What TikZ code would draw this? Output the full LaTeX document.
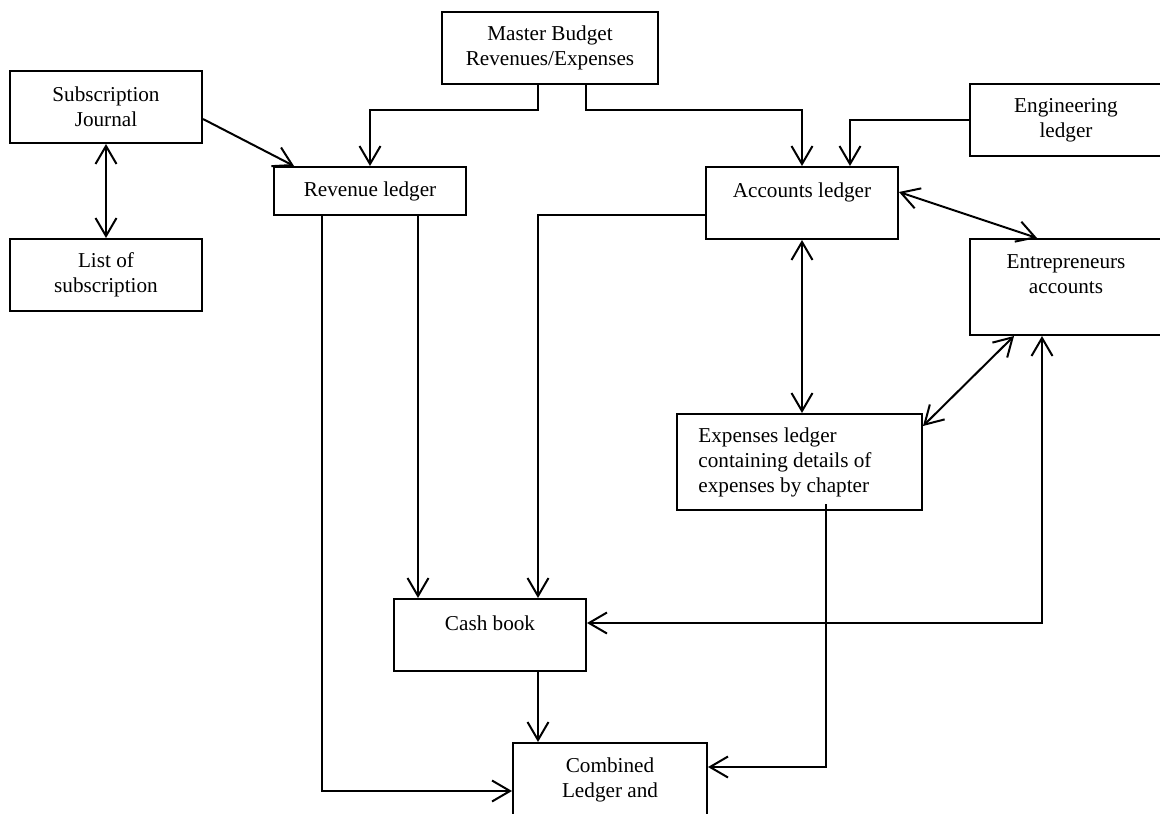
\documentclass[tikz,border=0pt]{standalone}
\usepackage{fontspec}
\setmainfont{Liberation Serif}
\usetikzlibrary{arrows.meta,calc}
\begin{document}
\begin{tikzpicture}[x=0.5pt,y=-0.5pt,
  box/.style={draw,line width=1pt,inner sep=0pt},
  txt/.style={font=\fontsize{10.6}{12.5}\selectfont,align=center,inner sep=0pt},
  barb/.style={Straight Barb[length=9pt,width=10.5pt]},
  arr/.style={line width=1pt,-{Straight Barb[length=9pt,width=10.5pt]}},
  darr/.style={line width=1pt,{Straight Barb[length=9pt,width=10.5pt]}-{Straight Barb[length=9pt,width=10.5pt]}}]
\useasboundingbox (0,0) rectangle (1160,813);
\clip (0,0) rectangle (1160,813);
% boxes
\node[box,minimum width=108pt,minimum height=36pt] (mb) at (550,48) {};
\node[txt] (mbt) at (mb) {Master Budget\\Revenues/Expenses};
\node[box,minimum width=96pt,minimum height=36pt] (sj) at (106,107) {};
\node[txt] (sjt) at (sj) {Subscription\\Journal};
\node[box,minimum width=96pt,minimum height=36pt] (ls) at (106,275) {};
\node[txt] (lst) at (ls) {List of\\subscription};
\node[box,minimum width=96pt,minimum height=24pt] (rl) at (370,191) {};
\node[txt] (rlt) at (rl) {Revenue ledger};
\node[box,minimum width=96pt,minimum height=36pt] (al) at (802,203) {};
\node[txt] (alt) at (802,192) {Accounts ledger};
\node[box,minimum width=96pt,minimum height=36pt] (el) at (1066,120) {};
\node[txt] (elt) at (el) {Engineering\\ledger};
\node[box,minimum width=96pt,minimum height=48pt] (ea) at (1066,287) {};
\node[txt] (eat) at (1066,274.5) {Entrepreneurs\\accounts};
\node[box,minimum width=122.5pt,minimum height=48pt] (ex) at (799.5,462) {};
\node[txt,align=left,anchor=west] (ext) at (698,462) {Expenses ledger\\containing details of\\expenses by chapter};
\node[box,minimum width=96pt,minimum height=36pt] (cb) at (490,635) {};
\node[txt] (cbt) at (490,623) {Cash book};
\node[box,minimum width=97pt,minimum height=48pt] (cl) at (610,791) {};
\node[txt] (clt) at (610,779.5) {Combined\\Ledger and};
% connectors
\draw[arr] ($(mb.south)+(-12,0)$) -- ++(0,25) -| (rl.north);
\draw[arr] ($(mb.south)+(36,0)$) -- ++(0,25) -| (al.north);
\draw[arr] (el.west) -| ($(al.north)+(48,0)$);
\draw[arr] ($(sj.east)+(0,12)$) -- ($(rl.north west)+(21,0)$);
\draw[darr] (sj.south) -- (ls.north);
\draw[arr] ($(rl.south)+(48,0)$) -- ($(cb.north)+(-72,0)$);
\draw[arr] ($(al.west)+(0,12)$) -| ($(cb.north)+(48,0)$);
\draw[arr] ($(rl.south)+(-48,0)$) |- (cl.west);
\draw[arr] ($(cb.south)+(48,0)$) -- ($(cl.north)+(-72,0)$);
\draw[arr] ($(ex.south)+(26.5,-7)$) |- ($(cl.east)+(0,-24)$);
\draw[darr] ($(cb.east)+(0,-12)$) -| ($(ea.south)+(-24,0)$);
\draw[darr] ($(al.east)+(0,-11)$) -- ($(ea.north west)+(68,0)$);
\draw[darr] (al.south) -- (al.south |- ex.north);
\draw[darr] ($(ex.north east)+(0,13)$) -- ($(ea.south west)+(45,0)$);
\end{tikzpicture}
\end{document}
